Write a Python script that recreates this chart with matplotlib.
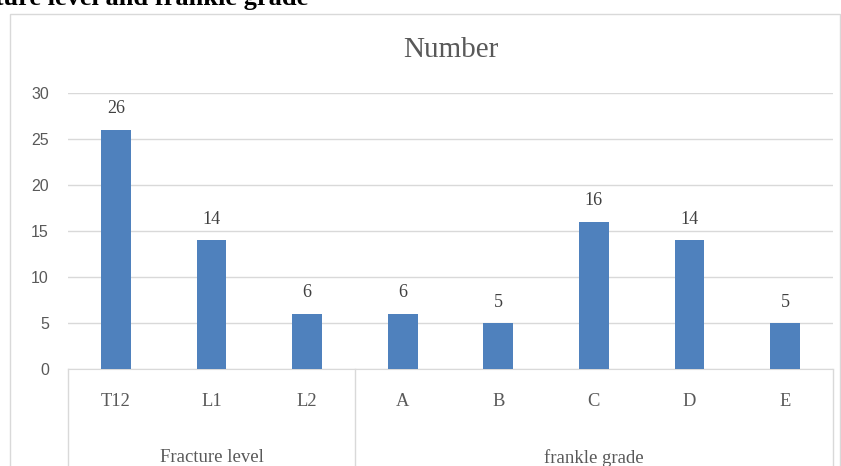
import matplotlib
matplotlib.use('agg')
import matplotlib.pyplot as plt
import matplotlib.transforms as mtransforms
import numpy as np

# data
categories = ['T12', 'L1', 'L2', 'A', 'B', 'C', 'D', 'E']
counts = [26, 14, 6, 6, 5, 16, 14, 5]
groups = ['Fracture level', 'frankle grade']
group_sizes = [3, 5]
title = 'Number'
caption = 'Fracture level and frankle grade'

plt.rcParams['font.family'] = ['Liberation Serif', 'DejaVu Serif']

W, H = 841, 466
fig = plt.figure(figsize=(W / 100, H / 100), dpi=100)

# outer chart border
border = plt.Rectangle((10 / W, -0.1), 830 / W, 1.1 - 14 / H, transform=fig.transFigure,
                       fill=False, edgecolor='#d9d9d9', linewidth=1)
fig.patches.append(border)

# caption of the page, cut off at the top like in the source
fig.text(308 / W, 1 - 5 / H, caption, ha='right', va='baseline',
         fontsize=19, fontweight='bold', color='black')

ax = fig.add_axes([68 / W, (H - 369) / H, 765 / W, 276 / H])
x = np.arange(len(categories))
ax.bar(x, counts, width=0.31, color='#4F81BD', zorder=3)

ax.set_xlim(-0.5, len(categories) - 0.5)
ax.set_ylim(0, 30)
ax.set_yticks(range(0, 31, 5))
ax.yaxis.grid(True, color='#d9d9d9', linewidth=1, zorder=0)
ax.tick_params(axis='y', length=0, pad=13.7, labelsize=11.5, labelcolor='#595959')
for lab in ax.get_yticklabels():
    lab.set_family(['Liberation Sans', 'DejaVu Sans'])
ax.set_xticks([])
for s in ['top', 'right', 'left']:
    ax.spines[s].set_visible(False)
ax.spines['bottom'].set_color('#d9d9d9')

for xi, v in zip(x, counts):
    ax.annotate(str(v), (xi, v), xytext=(0, 15), textcoords='offset points',
                ha='center', va='center', fontsize=13, color='#404040')

trans = mtransforms.blended_transform_factory(ax.transData, ax.transAxes)
for xi, c in zip(x, categories):
    ax.text(xi, -33 / 276, c, transform=trans, ha='center', va='center',
            fontsize=13.3, color='#595959')

# group separators and labels
start = -0.5
bounds = [start]
for g, n in zip(groups, group_sizes):
    end = start + n
    ax.text((start + end) / 2, -89 / 276, g, transform=trans, ha='center', va='center',
            fontsize=13.5, color='#595959')
    start = end
    bounds.append(end)
for b in bounds:
    ax.plot([b, b], [0, -0.4], transform=trans, color='#d9d9d9', linewidth=1, clip_on=False)

fig.text((68 + 765 / 2) / W, 1 - 50 / H, title, ha='center', va='center',
         fontsize=21, color='#595959')

plt.savefig('out.png', dpi=100)
plt.close()
